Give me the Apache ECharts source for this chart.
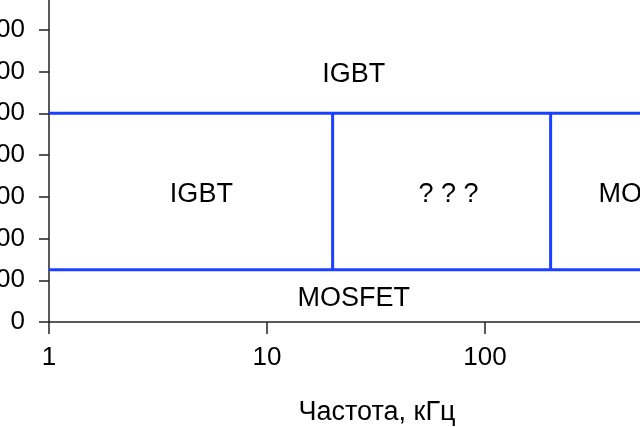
<!DOCTYPE html>
<html>
<head>
<meta charset="utf-8">
<script src="https://cdn.jsdelivr.net/npm/echarts@6/dist/echarts.min.js"></script>
<style>
html,body{margin:0;padding:0;background:#fff;overflow:hidden;}
#c{width:640px;height:427px;}
</style>
</head>
<body>
<div id="c"></div>
<script>
// Data
const yTicks = [0, 200, 400, 600, 800, 1000, 1200, 1400, 1600];
const xTicks = [1, 10, 100, 1000, 10000];
const voltageBounds = [250, 1000];      // horizontal boundaries, V
const freqBounds = [20, 200];           // vertical boundaries, kHz
const freqRange = [1, 10000];           // span of horizontal lines
const regionNames = ['IGBT', 'IGBT', '? ? ?', 'MOSFET', 'MOSFET'];
const regionFreq = [25, 5, 68, 600, 25];
const regionVolt = [1200, 625, 625, 625, 125];
const xAxisTitle = 'Частота, кГц';

const blue = '#1a40ff';
const font = "'Liberation Sans', Arial, Helvetica, sans-serif";

const series = [];
voltageBounds.forEach(v => {
  series.push({
    type: 'line', symbol: 'none', silent: true,
    lineStyle: {color: blue, width: 3},
    data: [[freqRange[0], v], [freqRange[1], v]]
  });
});
freqBounds.forEach(f => {
  series.push({
    type: 'line', symbol: 'none', silent: true,
    lineStyle: {color: blue, width: 3},
    data: [[f, voltageBounds[0]], [f, voltageBounds[1]]]
  });
});
series.push({
  type: 'scatter', symbolSize: 0, silent: true,
  itemStyle: {opacity: 1, color: 'transparent'},
  data: regionNames.map((n, i) => ({name: n, value: [regionFreq[i], regionVolt[i]]})),
  label: {
    show: true, position: 'inside', offset: [0, 3], formatter: p => p.name,
    color: '#000', opacity: 1, fontSize: 27, fontFamily: font
  }
});

const chart = echarts.init(document.getElementById('c'));
chart.setOption({
  animation: false,
  backgroundColor: '#fff',
  grid: {left: 49, right: -281, top: -12, bottom: 105, containLabel: false, outerBoundsMode: 'none'},
  xAxis: {
    type: 'log', logBase: 10, min: xTicks[0], max: xTicks[xTicks.length - 1],
    axisLine: {lineStyle: {color: '#222', width: 1.5}},
    axisTick: {show: true, length: 12, lineStyle: {color: '#222', width: 1.5}},
    minorTick: {show: false},
    splitLine: {show: false},
    axisLabel: {color: '#000', fontSize: 26, fontFamily: font, margin: 23, formatter: v => String(v)}
  },
  yAxis: {
    type: 'value', min: yTicks[0], max: yTicks[yTicks.length - 1], interval: 200,
    axisLine: {show: true, lineStyle: {color: '#222', width: 1.5}},
    axisTick: {show: true, length: 10, lineStyle: {color: '#222', width: 1.5}},
    splitLine: {show: false},
    axisLabel: {color: '#000', fontSize: 26, fontFamily: font, margin: 24, formatter: v => String(v)}
  },
  graphic: [{
    type: 'text', x: 377, y: 413,
    style: {text: xAxisTitle, fill: '#000', font: "27px " + font, align: 'center', verticalAlign: 'middle'}
  }],
  series: series
});
</script>
</body>
</html>
